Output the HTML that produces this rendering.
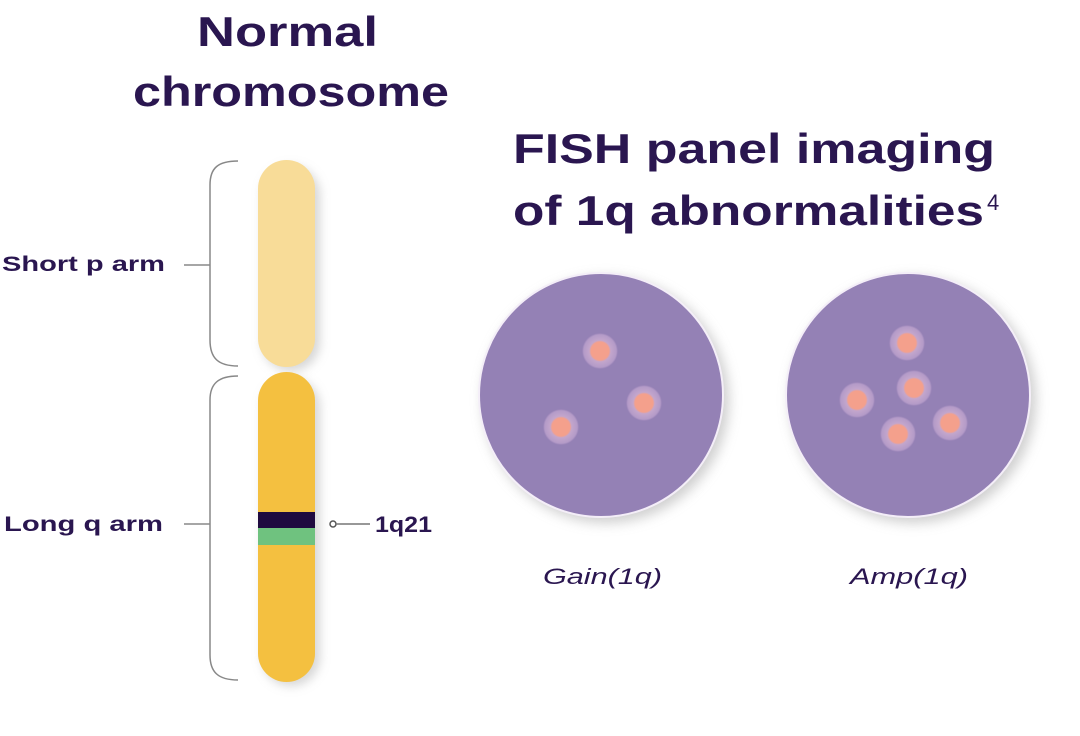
<!DOCTYPE html>
<html><head><style>
body{margin:0;width:1080px;height:731px;background:#fff;overflow:hidden;font-family:"Liberation Sans",sans-serif;}
</style></head><body>
<svg width="1080" height="731" xmlns="http://www.w3.org/2000/svg">
<defs>
<filter id="sh" x="-30%" y="-10%" width="160%" height="120%"><feGaussianBlur stdDeviation="5"/></filter>
<filter id="sh2" x="-20%" y="-20%" width="140%" height="140%"><feGaussianBlur stdDeviation="6"/></filter>
<radialGradient id="dot"><stop offset="0.5" stop-color="#f4a08c"/><stop offset="0.6" stop-color="#c3a6cc"/><stop offset="0.9" stop-color="#b49bc8"/><stop offset="1" stop-color="#9580b5"/></radialGradient>
</defs>
<text x="197" y="46" textLength="181" lengthAdjust="spacingAndGlyphs" font-size="42" font-weight="bold" fill="#2a1650">Normal</text>
<text x="133" y="106" textLength="316" lengthAdjust="spacingAndGlyphs" font-size="42" font-weight="bold" fill="#2a1650">chromosome</text>
<text x="513" y="163" textLength="482" lengthAdjust="spacingAndGlyphs" font-size="42" font-weight="bold" fill="#2a1650">FISH panel imaging</text>
<text x="513" y="225" textLength="471" lengthAdjust="spacingAndGlyphs" font-size="42" font-weight="bold" fill="#2a1650">of 1q abnormalities</text>
<text x="987" y="210" font-size="22" fill="#2a1650">4</text>
<!-- braces -->
<path d="M238,161 C218,161 210,168 210,185 L210,340 C210,358 218,366 238,366" fill="none" stroke="#888" stroke-width="1.5"/>
<path d="M238,376 C218,376 210,384 210,400 L210,655 C210,672 218,680 238,680" fill="none" stroke="#888" stroke-width="1.5"/>
<line x1="184" y1="265" x2="210" y2="265" stroke="#888" stroke-width="1.5"/>
<line x1="184" y1="524" x2="210" y2="524" stroke="#888" stroke-width="1.5"/>
<text x="2" y="271" textLength="163" lengthAdjust="spacingAndGlyphs" font-size="21" font-weight="bold" fill="#2a1650">Short p arm</text>
<text x="4" y="531" textLength="159" lengthAdjust="spacingAndGlyphs" font-size="21" font-weight="bold" fill="#2a1650">Long q arm</text>
<!-- chromosome -->
<rect x="262" y="166" width="58" height="205" rx="29" fill="#bbb" filter="url(#sh)" opacity="0.6"/>
<rect x="262" y="378" width="58" height="308" rx="29" fill="#bbb" filter="url(#sh)" opacity="0.6"/>
<rect x="258" y="160" width="57" height="207" rx="28.5" fill="#f8dc98"/>
<rect x="258" y="372" width="57" height="310" rx="28.5" fill="#f4c040"/>
<rect x="258" y="512" width="57" height="16" fill="#1f0a3f"/>
<rect x="258" y="528" width="57" height="17" fill="#6fc27f"/>
<circle cx="333" cy="524" r="3" fill="none" stroke="#555" stroke-width="1.5"/>
<line x1="336" y1="524" x2="370" y2="524" stroke="#777" stroke-width="1.5"/>
<text x="375" y="532" textLength="57" lengthAdjust="spacingAndGlyphs" font-size="22" font-weight="bold" fill="#2a1650">1q21</text>
<!-- cells -->
<circle cx="606" cy="400" r="123" fill="#bbb" filter="url(#sh2)" opacity="0.7"/>
<circle cx="913" cy="400" r="123" fill="#bbb" filter="url(#sh2)" opacity="0.7"/>
<circle cx="601" cy="395" r="122" fill="#9481b5" stroke="#f4eef8" stroke-width="2"/>
<circle cx="908" cy="395" r="122" fill="#9481b5" stroke="#f4eef8" stroke-width="2"/>
<g fill="url(#dot)">
<circle cx="600" cy="351" r="18"/><circle cx="644" cy="403" r="18"/><circle cx="561" cy="427" r="18"/>
<circle cx="907" cy="343" r="18"/><circle cx="914" cy="388" r="18"/><circle cx="857" cy="400" r="18"/><circle cx="898" cy="434" r="18"/><circle cx="950" cy="423" r="18"/>
</g>
<text x="543" y="584" textLength="119" lengthAdjust="spacingAndGlyphs" font-size="22" font-style="italic" fill="#2a1650">Gain(1q)</text>
<text x="850" y="584" textLength="118" lengthAdjust="spacingAndGlyphs" font-size="22" font-style="italic" fill="#2a1650">Amp(1q)</text>
</svg>
</body></html>
